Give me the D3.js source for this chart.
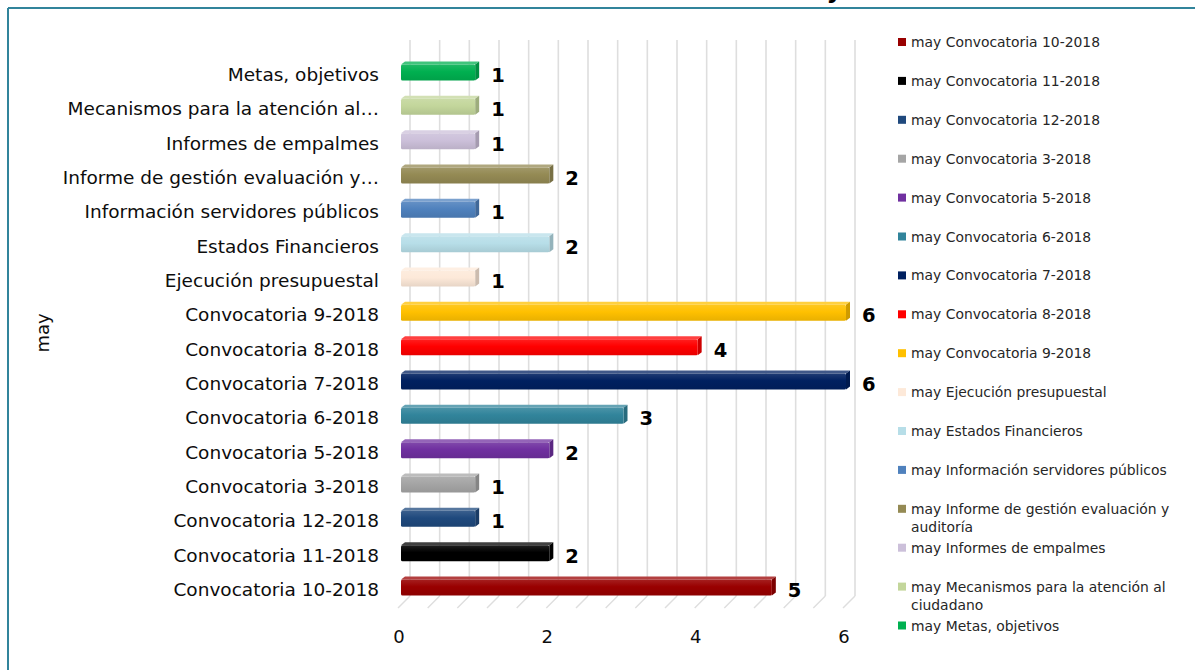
<!DOCTYPE html>
<html>
<head>
<meta charset="utf-8">
<script src="https://cdn.jsdelivr.net/npm/d3@7"></script>
<style>
  body { margin: 0; background: #fff; }
  svg { display: block; font-family: "DejaVu Sans", Verdana, sans-serif; }
</style>
</head>
<body>
<svg id="chart" width="1195" height="670"></svg>
<script>
// Categories, bottom to top on the chart (same order as the legend)
const categories = [
  "Convocatoria 10-2018",
  "Convocatoria 11-2018",
  "Convocatoria 12-2018",
  "Convocatoria 3-2018",
  "Convocatoria 5-2018",
  "Convocatoria 6-2018",
  "Convocatoria 7-2018",
  "Convocatoria 8-2018",
  "Convocatoria 9-2018",
  "Ejecución presupuestal",
  "Estados Financieros",
  "Información servidores públicos",
  "Informe de gestión evaluación y auditoría",
  "Informes de empalmes",
  "Mecanismos para la atención al ciudadano",
  "Metas, objetivos"
];
// Axis labels as shown next to the bars (long names shortened)
const tickLabels = [
  "Convocatoria 10-2018",
  "Convocatoria 11-2018",
  "Convocatoria 12-2018",
  "Convocatoria 3-2018",
  "Convocatoria 5-2018",
  "Convocatoria 6-2018",
  "Convocatoria 7-2018",
  "Convocatoria 8-2018",
  "Convocatoria 9-2018",
  "Ejecución presupuestal",
  "Estados Financieros",
  "Información servidores públicos",
  "Informe de gestión evaluación y…",
  "Informes de empalmes",
  "Mecanismos para la atención al…",
  "Metas, objetivos"
];
const values = [5, 2, 1, 1, 2, 3, 6, 4, 6, 1, 2, 1, 2, 1, 1, 1];
const colors = [
  "#990000", "#000000", "#1f497d", "#a5a5a5", "#7030a0", "#31849b",
  "#002060", "#ff0000", "#ffc000", "#fde9d9", "#b7dee8", "#4f81bd",
  "#948a54", "#ccc0da", "#c3d69b", "#00b050"
];
const seriesName = "may";
const xTickValues = [0, 2, 4, 6];
const gridStep = 0.4;

const svg = d3.select("#chart");

// Frame lines (top and left edges)
svg.append("line").attr("x1", 8).attr("y1", 8).attr("x2", 1195).attr("y2", 8)
  .attr("stroke", "#31849b").attr("stroke-width", 2);
svg.append("line").attr("x1", 8).attr("y1", 8).attr("x2", 8).attr("y2", 670)
  .attr("stroke", "#31849b").attr("stroke-width", 2);

// Title (sits mostly above the frame)
svg.append("text").attr("x", 814).attr("y", -2).attr("text-anchor", "middle")
  .attr("font-size", 24).attr("font-weight", "bold").attr("fill", "#000").text(seriesName);

// Scales
const x = d3.scaleLinear().domain([0, 6]).range([400, 845]);
const y = d3.scaleBand().domain(categories).range([603.2, 53.8])
  .paddingInner(0.534).paddingOuter(0.267);

// 3D depth of the back wall and of the bars
const wallDx = 10, wallTop = 40, wallBottom = 596, floorFront = 608;
const barDx = 4, barDy = -3;

// Back-wall gridlines and floor diagonals
const gridVals = d3.range(0, 6 + 1e-9, gridStep);
const grid = svg.append("g");
grid.selectAll("line.v").data(gridVals).join("line")
  .attr("class", "v")
  .attr("x1", d => x(d) + wallDx).attr("x2", d => x(d) + wallDx)
  .attr("y1", wallTop).attr("y2", wallBottom)
  .attr("stroke", "#dedede").attr("stroke-width", 1.6);
grid.selectAll("line.f").data(gridVals).join("line")
  .attr("class", "f")
  .attr("x1", d => x(d) + wallDx).attr("y1", wallBottom)
  .attr("x2", d => x(d) + wallDx - 12).attr("y2", floorFront)
  .attr("stroke", "#dedede").attr("stroke-width", 1.4);

// Gradients for the bar fronts
const defs = svg.append("defs");
categories.forEach((c, i) => {
  const base = d3.color(colors[i]);
  const g = defs.append("linearGradient").attr("id", "g" + i)
    .attr("x1", 0).attr("y1", 0).attr("x2", 0).attr("y2", 1);
  g.append("stop").attr("offset", "0%").attr("stop-color", d3.interpolateRgb(base, "#fff")(0.12));
  g.append("stop").attr("offset", "45%").attr("stop-color", base.formatHex());
  g.append("stop").attr("offset", "100%").attr("stop-color", base.darker(0.25).formatHex());
});

// Bars
const bh = y.bandwidth();
const bars = svg.append("g").selectAll("g").data(categories).join("g");
bars.each(function (c, i) {
  const g = d3.select(this);
  const x0 = x(0) + 1, x1 = x(values[i]) + 1;
  const y0 = y(c) + 1.5, y1 = y0 + bh;
  const base = d3.color(colors[i]);
  // top face
  g.append("path")
    .attr("d", `M${x0},${y0} L${x0 + barDx},${y0 + barDy} L${x1 + barDx},${y0 + barDy} L${x1},${y0} Z`)
    .attr("fill", d3.interpolateRgb(base, "#fff")(0.25));
  // side face
  g.append("path")
    .attr("d", `M${x1},${y0} L${x1 + barDx},${y0 + barDy} L${x1 + barDx},${y1 + barDy} L${x1},${y1} Z`)
    .attr("fill", base.darker(0.6).formatHex());
  // front face
  g.append("rect")
    .attr("x", x0).attr("y", y0).attr("width", x1 - x0).attr("height", bh)
    .attr("rx", 1.5)
    .attr("fill", `url(#g${i})`);
});

// Value labels
svg.append("g").selectAll("text").data(categories).join("text")
  .attr("x", (c, i) => x(values[i]) + barDx + 13)
  .attr("y", c => y(c) + bh / 2 + 11)
  .attr("font-size", 19.5).attr("font-weight", "bold").attr("fill", "#000")
  .text((c, i) => values[i]);

// Category labels
svg.append("g").selectAll("text").data(categories).join("text")
  .attr("x", 379)
  .attr("y", c => y(c) + bh / 2 + 10)
  .attr("text-anchor", "end").attr("font-size", 18.5).attr("fill", "#0d0d0d")
  .text((c, i) => tickLabels[i]);

// Value axis labels
svg.append("g").selectAll("text").data(xTickValues).join("text")
  .attr("x", d => x(d) - 1).attr("y", 643)
  .attr("text-anchor", "middle").attr("font-size", 18).attr("fill", "#0d0d0d")
  .text(d => d);

// Axis title
svg.append("text").attr("transform", "translate(49,333) rotate(-90)")
  .attr("text-anchor", "middle").attr("font-size", 18).attr("fill", "#0d0d0d")
  .text(seriesName);

// Legend
const legend = svg.append("g");
const legY = i => 42 + 38.9 * i;
categories.forEach((c, i) => {
  const item = legend.append("g");
  item.append("rect").attr("x", 898).attr("y", legY(i) - 4).attr("width", 8).attr("height", 8)
    .attr("fill", colors[i]);
  const t = item.append("text").attr("x", 911).attr("y", legY(i) + 5)
    .attr("font-size", 13.9).attr("fill", "#262626");
  // wrap long entries onto a second line
  const words = (seriesName + " " + c).split(" ");
  let line = [];
  let tspan = t.append("tspan").attr("x", 911).attr("dy", 0);
  words.forEach(w => {
    line.push(w);
    tspan.text(line.join(" "));
    if (tspan.node().getComputedTextLength() > 275 && line.length > 1) {
      line.pop();
      tspan.text(line.join(" "));
      line = [w];
      tspan = t.append("tspan").attr("x", 911).attr("dy", 18.5).text(w);
    }
  });
});
</script>
</body>
</html>
